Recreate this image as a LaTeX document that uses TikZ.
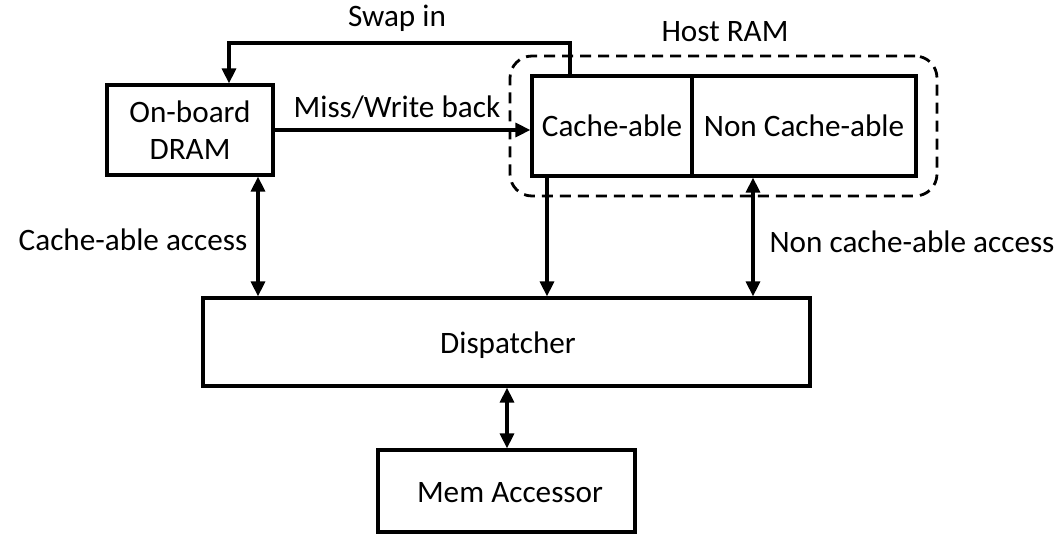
\documentclass[tikz,border=0pt]{standalone}
\usepackage{fontspec}
\setmainfont{Carlito}
\usetikzlibrary{arrows.meta,calc}
\begin{document}
\begin{tikzpicture}[x=1pt,y=-1pt,
  every node/.style={font=\fontsize{31.2}{37}\selectfont},
  blk/.style={draw,line width=3.2pt,minimum height=#1,inner sep=0pt,align=center},
  lbl/.style={inner sep=0pt},
  conn/.style={line width=3.2pt,-{Triangle[length=15pt,width=14pt]}},
  bconn/.style={line width=3.2pt,{Triangle[length=15pt,width=14pt]}-{Triangle[length=15pt,width=14pt]}},
  hostbox/.style={draw,line width=2.8pt,dash pattern=on 11pt off 7pt,rounded corners=22pt}]
\useasboundingbox (0,0) rectangle (1061,544);
% nodes
\node[blk=90pt,minimum width=166pt] (dram) at (190,130) {On-board\\DRAM};
\node[blk=100pt,minimum width=160pt] (cache) at (612,126) {Cache-able};
\node[blk=100pt,minimum width=224pt] (noncache) at (804,126) {Non Cache-able};
\node[blk=88pt,minimum width=607pt] (disp) at (506.5,342) {};
\node[lbl] (disptxt) at (508,345) {Dispatcher};
\node[blk=82pt,minimum width=257pt] (mem) at (506.5,491) {};
\node[lbl] (memtxt) at (510,493) {Mem Accessor};
\node[hostbox,minimum width=427pt,minimum height=140pt,inner sep=0pt] (host) at (723.5,126) {};
% labels
\node[lbl] (swaplbl) at (397,18) {Swap in};
\node[lbl] (misslbl) at (397,107) {Miss/Write back};
\node[lbl] (hostlbl) at (725,32) {Host RAM};
\node[lbl] (calbl) at (133,240) {Cache-able access};
\node[lbl] (nclbl) at (912,242) {Non cache-able access};
% connectors
\coordinate (sw1) at (570,43);
\coordinate (sw2) at (229,43);
\draw[conn] (sw1 |- cache.north) -- (sw1) -- (sw2) -- (sw2 |- dram.north);
\draw[conn] (dram.east) -- (dram.east -| cache.west);
\coordinate (ca) at (258,0);
\draw[bconn] (ca |- dram.south) -- (ca |- disp.north);
\coordinate (cd) at (547,0);
\draw[conn] (cd |- cache.south) -- (cd |- disp.north);
\coordinate (nc) at (753,0);
\draw[bconn] (nc |- noncache.south) -- (nc |- disp.north);
\coordinate (dm) at (507,0);
\draw[bconn] (dm |- disp.south) -- (dm |- mem.north);
\end{tikzpicture}
\end{document}
